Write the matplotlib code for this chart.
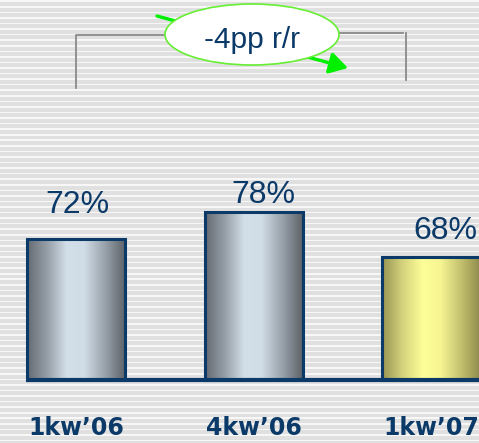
import numpy as np
import matplotlib
matplotlib.use("Agg")
import matplotlib.pyplot as plt
from matplotlib.colors import LinearSegmentedColormap
from matplotlib.patches import Ellipse, FancyArrowPatch

categories = ["1kw\u201906", "4kw\u201906", "1kw\u201907"]
values = [72, 78, 68]
value_labels = ["72%", "78%", "68%"]
delta_label = "-4pp r/r"

W, H = 479, 443
fig = plt.figure(figsize=(W / 100, H / 100), dpi=100)

# striped background
bg = fig.add_axes([0, 0, 1, 1], zorder=0)
rows = np.arange(H)
stripe = np.where((rows % 5.56) < 1.6, 0.965, 0.875)
bg.imshow(np.tile(stripe[:, None], (1, 2)), cmap="gray", vmin=0, vmax=1,
          aspect="auto", extent=[0, 1, 0, 1], interpolation="nearest")
bg.set_axis_off()

# main chart axes
ax = fig.add_axes([0, 0, 1, 1], zorder=1)
ax.patch.set_alpha(0)
px_per_unit = 177.5
x0_px = 76
base = 40.7
scale = 4.5  # px per value unit
base_px = 380
ax.set_axis_off()

navy = "#0b3a68"
gray_cmap = LinearSegmentedColormap.from_list(
    "g", [(0, "#646a71"), (0.2, "#959ea7"), (0.4, "#d2dee8"), (0.58, "#d0dce6"),
          (0.8, "#959fa8"), (1, "#5c6166")])
yellow_cmap = LinearSegmentedColormap.from_list(
    "y", [(0, "#969452"), (0.2, "#d2d07a"), (0.42, "#ffff99"), (0.6, "#f6f592"),
          (0.82, "#c0bd6c"), (1, "#908c4e")])
cmaps = [gray_cmap, gray_cmap, yellow_cmap]

x = np.arange(len(values))
bw = 98 / px_per_unit
bars = ax.bar(x, np.array(values) - base, bottom=base, width=bw,
              facecolor="none", edgecolor=navy, linewidth=2.2, zorder=3)
grad = np.linspace(0, 1, 256)[None, :]
for b, cm in zip(bars, cmaps):
    bx, by = b.get_x(), b.get_y()
    im = ax.imshow(grad, cmap=cm, aspect="auto", interpolation="bilinear",
                   extent=[bx, bx + b.get_width(), by, by + b.get_height()], zorder=2)
    im.set_clip_path(b)
ax.set_xlim(-x0_px / px_per_unit, (W - x0_px) / px_per_unit)
ax.set_ylim(base - (H - base_px) / scale, base + base_px / scale)

# baseline
ax.plot([-0.28, 2.5], [base, base], color=navy, lw=3, zorder=4, solid_capstyle="butt")

# value labels
offsets = [(1, 26), (10, 9), (14, 18)]
for xi, v, lab, (dx, dy) in zip(x, values, value_labels, offsets):
    ax.annotate(lab, (xi, v), xytext=(dx * 0.72, dy * 0.72), textcoords="offset points",
                ha="center", va="baseline", fontsize=23, color=navy,
                family="Liberation Sans", zorder=5)

# category labels
for xi, c in zip(x, categories):
    ax.text(xi, base - 55 / scale, c, ha="center", va="baseline", fontsize=17,
            fontweight="bold", color=navy, family="DejaVu Sans", zorder=5)

# decoration overlay (pixel coords)
ov = fig.add_axes([0, 0, 1, 1], zorder=2)
ov.patch.set_alpha(0)
ov.set_xlim(0, W)
ov.set_ylim(H, 0)
ov.set_axis_off()
ov.plot([76, 76, 170], [88, 35, 35], color="#8a8a8a", lw=1.3, zorder=1)
ov.plot([335, 403], [33, 33], color="#8a8a8a", lw=1.3, zorder=1)
ov.plot([406, 406], [33, 80], color="#8a8a8a", lw=1.3, zorder=1)
ov.add_patch(FancyArrowPatch((157, 16), (348, 68), arrowstyle="-|>,head_length=11,head_width=6.5",
                             color="#00f000", lw=2.4, zorder=2, shrinkA=0, shrinkB=0))
ov.add_patch(Ellipse((252, 34.5), 174, 61, facecolor="white", edgecolor="#66ee33",
                     lw=1.2, zorder=3))
ov.text(252, 48, delta_label, ha="center", va="baseline", fontsize=21.5,
        color=navy, family="Liberation Sans", zorder=4)

fig.savefig("out.png", dpi=100)
